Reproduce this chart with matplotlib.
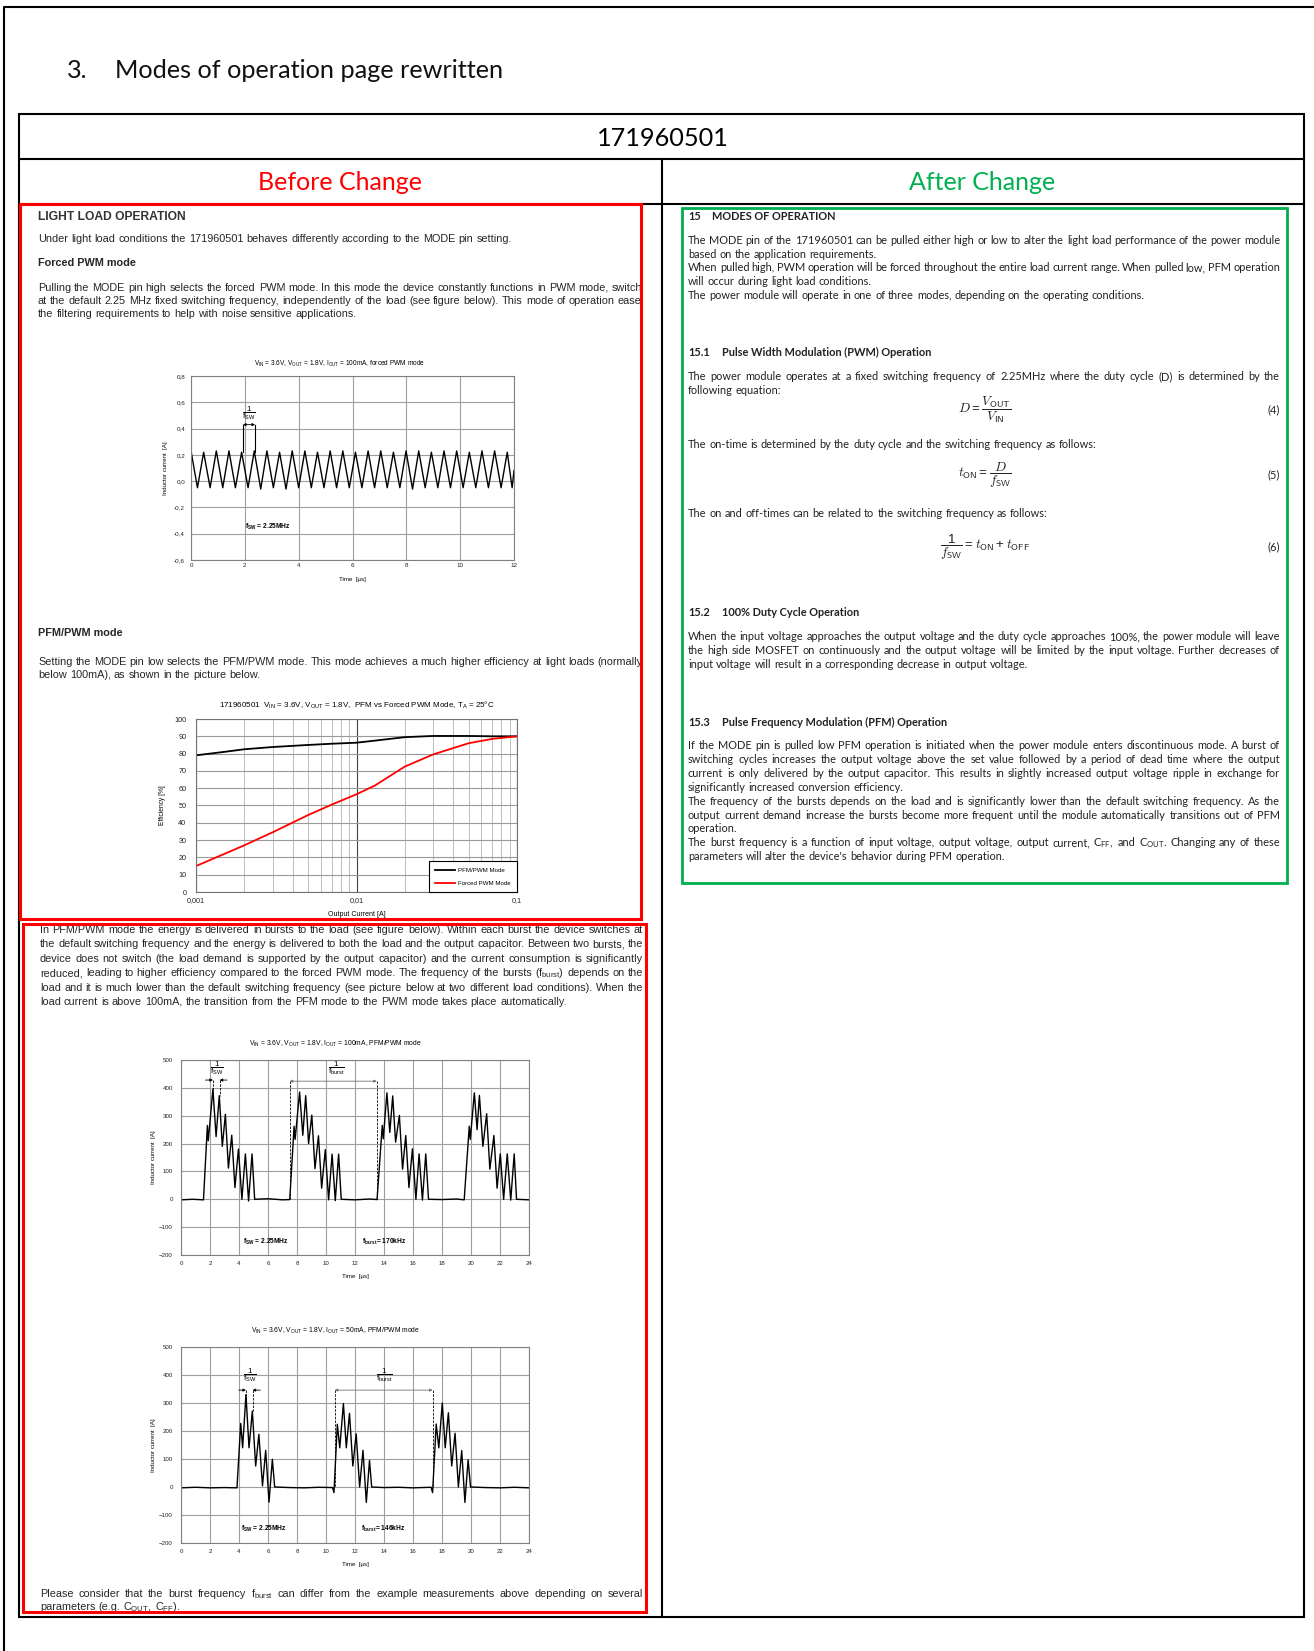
import matplotlib
matplotlib.use("Agg")
import matplotlib.pyplot as plt
from matplotlib.patches import Rectangle
from matplotlib.ticker import LogLocator, NullFormatter
from matplotlib.transforms import Bbox, TransformedBbox

# ---------------- data ----------------
# forced PWM mode, inductor current [A] vs time [us]
pwm_time = [0.00, 0.24, 0.47, 0.71, 0.94, 1.18, 1.41, 1.65, 1.88, 2.12, 2.35, 2.59, 2.82,
            3.06, 3.29, 3.53, 3.76, 4.00, 4.23, 4.47, 4.70, 4.94, 5.17, 5.41, 5.64, 5.88,
            6.11, 6.35, 6.58, 6.82, 7.05, 7.29, 7.52, 7.76, 7.99, 8.23, 8.46, 8.70, 8.93,
            9.17, 9.40, 9.64, 9.87, 10.11, 10.34, 10.58, 10.81, 11.05, 11.28, 11.52, 11.75,
            11.93, 12.00]
pwm_current = [0.23, -0.05, 0.22, -0.05, 0.23, -0.05, 0.23, -0.05, 0.22, -0.05, 0.23, -0.06,
               0.23, -0.05, 0.22, -0.06, 0.23, -0.05, 0.23, -0.05, 0.22, -0.05, 0.23, -0.05,
               0.23, -0.05, 0.22, -0.05, 0.23, -0.05, 0.23, -0.05, 0.22, -0.05, 0.23, -0.06,
               0.23, -0.05, 0.22, -0.05, 0.23, -0.05, 0.23, -0.05, 0.22, -0.05, 0.23, -0.05,
               0.23, -0.05, 0.22, -0.05, 0.08]
pwm_xticks = [0, 2, 4, 6, 8, 10, 12]
pwm_yticks = [-0.6, -0.4, -0.2, 0.0, 0.2, 0.4, 0.6, 0.8]
pwm_ylabels = ["-0,6", "-0,4", "-0,2", "0,0", "0,2", "0,4", "0,6", "0,8"]

# efficiency [%] vs output current [A]
load_a = [0.001, 0.0015, 0.002, 0.003, 0.005, 0.007, 0.01, 0.013, 0.02, 0.03, 0.05, 0.07, 0.1]
pfm_eff = [79, 81, 82.5, 83.8, 85, 85.7, 86.3, 87.5, 89.5, 90.2, 90.2, 90, 90]
forced_eff = [15, 22, 27, 34.5, 44.5, 50.5, 56.5, 61.5, 72.5, 79.5, 86, 88.5, 90]
eff_xticks = [0.001, 0.01, 0.1]
eff_xlabels = ["0,001", "0,01", "0,1"]
eff_yticks = [0, 10, 20, 30, 40, 50, 60, 70, 80, 90, 100]

# PFM/PWM mode, Iout = 100mA
b100_time = [0.0, 0.8, 1.55,
             1.82, 1.88, 2.2, 2.42, 2.64, 2.85, 3.06, 3.27, 3.5, 3.72, 3.96, 4.2, 4.44, 4.66, 4.9, 5.08,
             6.0, 7.0, 7.5,
             7.8, 7.87, 8.18, 8.4, 8.6, 8.8, 9.02, 9.24, 9.48, 9.7, 9.95, 10.18, 10.42, 10.64, 10.87, 11.05,
             12.0, 13.0, 13.52,
             13.88, 13.95, 14.2, 14.4, 14.6, 14.8, 15.06, 15.28, 15.5, 15.72, 15.96, 16.2, 16.42, 16.65, 16.88, 17.07,
             18.0, 19.0, 19.53,
             19.88, 19.95, 20.23, 20.42, 20.58, 20.82, 21.08, 21.3, 21.58, 21.8, 22.02, 22.25, 22.5, 22.74, 22.98, 23.14,
             24.0]
b100_current = [-2, 0, -2,
                265, 210, 395, 225, 372, 190, 305, 112, 230, 42, 180, 0, 163, -6, 163, 0,
                2, -2, -1,
                262, 215, 385, 230, 372, 200, 302, 110, 228, 40, 178, -2, 162, -5, 162, 0,
                -2, 1, -1,
                265, 217, 382, 240, 371, 205, 301, 108, 229, 42, 181, 0, 163, -3, 163, 0,
                -1, 1, -2,
                262, 215, 382, 250, 373, 190, 307, 108, 229, 40, 163, 0, 163, -3, 163, 0,
                -2]

# PFM/PWM mode, Iout = 50mA
b50_time = [0.0, 1.0, 2.0, 3.0, 3.86,
            4.12, 4.25, 4.48, 4.69, 4.92, 5.15, 5.37, 5.62, 5.84, 6.07, 6.3, 6.46,
            7.5, 8.5, 9.5, 10.45, 10.55,
            10.78, 10.95, 11.2, 11.4, 11.62, 11.85, 12.08, 12.32, 12.55, 12.78, 13.0, 13.15,
            14.0, 15.0, 16.0, 17.25, 17.35,
            17.6, 17.78, 18.02, 18.22, 18.44, 18.67, 18.9, 19.13, 19.36, 19.58, 19.8, 19.97,
            21.0, 22.0, 23.0, 24.0]
b50_current = [-3, -1, -3, -2, -3,
               227, 140, 330, 140, 271, 75, 188, 4, 131, -54, 99, 0,
               -2, -3, -1, -2, -20,
               224, 140, 298, 140, 263, 75, 190, 0, 131, -55, 95, 0,
               -2, -1, -3, -1, -20,
               225, 140, 300, 140, 265, 75, 192, 0, 130, -55, 97, 0,
               -2, -3, -1, -3]
burst_xticks = [0, 2, 4, 6, 8, 10, 12, 14, 16, 18, 20, 22, 24]
burst_yticks = [-200, -100, 0, 100, 200, 300, 400, 500]

# ---------------- text ----------------
left_intro = "Under light load conditions the 171960501 behaves differently according to the MODE pin setting."
left_forced = ["Pulling the MODE pin high selects the forced PWM mode. In this mode the device constantly functions in PWM mode, switching",
               "at the default 2.25 MHz fixed switching frequency, independently of the load (see figure below). This mode of operation eases",
               "the filtering requirements to help with noise sensitive applications."]
left_pfm = ["Setting the MODE pin low selects the PFM/PWM mode. This mode achieves a much higher efficiency at light loads (normally",
            "below 100mA), as shown in the picture below."]
left_burst = ["In PFM/PWM mode the energy is delivered in bursts to the load (see figure below). Within each burst the device switches at",
              "the default switching frequency and the energy is delivered to both the load and the output capacitor. Between two bursts, the",
              "device does not switch (the load demand is supported by the output capacitor) and the current consumption is significantly",
              "reduced, leading to higher efficiency compared to the forced PWM mode. The frequency of the bursts (f$_{burst}$) depends on the",
              "load and it is much lower than the default switching frequency (see picture below at two different load conditions). When the",
              "load current is above 100mA, the transition from the PFM mode to the PWM mode takes place automatically."]
left_final = ["Please consider that the burst frequency f$_{burst}$ can differ from the example measurements above depending on several",
              "parameters (e.g. C$_{OUT}$, C$_{FF}$)."]

right_modes = [["The MODE pin of the 171960501 can be pulled either high or low to alter the light load performance of the power module",
                "based on the application requirements."],
               ["When pulled high, PWM operation will be forced throughout the entire load current range. When pulled low, PFM operation",
                "will occur during light load conditions."],
               ["The power module will operate in one of three modes, depending on the operating conditions."]]
right_pwm = [["The power module operates at a fixed switching frequency of 2.25MHz where the duty cycle (D) is determined by the",
              "following equation:"]]
right_ontime = "The on-time is determined by the duty cycle and the switching frequency as follows:"
right_onoff = "The on and off-times can be related to the switching frequency as follows:"
right_duty = [["When the input voltage approaches the output voltage and the duty cycle approaches 100%, the power module will leave",
               "the high side MOSFET on continuously and the output voltage will be limited by the input voltage.  Further decreases of",
               "input voltage will result in a corresponding decrease in output voltage."]]
right_pfm = [["If the MODE pin is pulled low PFM operation is initiated when the power module enters discontinuous mode.  A burst of",
              "switching cycles increases the output voltage above the set value followed by a period of dead time where the output",
              "current is only delivered by the output capacitor.  This results in slightly increased output voltage ripple in exchange for",
              "significantly increased conversion efficiency."],
             ["The frequency of the bursts depends on the load and is significantly lower than the default switching frequency.  As the",
              "output current demand increase the bursts become more frequent until the module automatically transitions out of PFM",
              "operation."],
             ["The burst frequency is a function of input voltage, output voltage, output current, C$_{FF}$, and C$_{OUT}$.  Changing any of these",
              "parameters will alter the device's behavior during PFM operation."]]

# ---------------- page ----------------
W, H = 1314, 1651
plt.rcParams['font.family'] = 'Liberation Sans'
plt.rcParams['mathtext.default'] = 'regular'

fig = plt.figure(figsize=(W / 100, H / 100), dpi=100)
page = fig.add_axes([0, 0, 1, 1])
page.set_xlim(0, W)
page.set_ylim(H, 0)
page.axis('off')
rend = fig.canvas.get_renderer()

RED = '#ff0000'
GREEN = '#00b050'
LEFT = dict(family='Liberation Sans', fontsize=7.8, color='#262626')
RIGHT = dict(family='Lato', fontsize=7.9, color='#222222')


def box(x0, y0, x1, y1):
    return [x0 / W, 1 - y1 / H, (x1 - x0) / W, (y1 - y0) / H]


def width(t):
    return t.get_window_extent(renderer=rend).width


_space = {}


def space_w(kw):
    key = (kw.get('family'), kw.get('fontsize'), kw.get('fontweight', 'normal'))
    if key not in _space:
        a = page.text(0, 0, 'n n', **kw)
        b = page.text(0, 0, 'nn', **kw)
        _space[key] = width(a) - width(b)
        a.remove()
        b.remove()
    return _space[key]


# left column text is cut off by the red frame, as in the original
left_clip = TransformedBbox(Bbox([[0, 0], [641, H]]), page.transData)


def line(x0, x1, y, s, just, clip=None, **kw):
    words = s.split()
    ts = [page.text(x0, y, w, ha='left', va='baseline', **kw) for w in words]
    ws = [width(t) for t in ts]
    gap = space_w(kw)
    if just and len(words) > 1:
        gap = (x1 - x0 - sum(ws)) / (len(words) - 1)
    x = x0
    for t, w in zip(ts, ws):
        t.set_x(x)
        if clip is not None:
            t.set_clip_on(True)
            t.set_clip_box(clip)
        x += w + gap


def block(x0, x1, y0, dy, paras, clip=None, **kw):
    y = y0
    for p in paras:
        for k, s in enumerate(p):
            line(x0, x1, y, s, k < len(p) - 1, clip=clip, **kw)
            y += dy
    return y


# page frame and table
page.plot([4, 4, W], [H, 7, 7], color='k', lw=1.5)
page.add_patch(Rectangle((19, 114), 1304 - 19, 1617 - 114, fill=False, ec='k', lw=1.5))
page.plot([19, 1304], [159, 159], color='k', lw=1.5)
page.plot([19, 1304], [204, 204], color='k', lw=1.5)
page.plot([662, 662], [159, 1617], color='k', lw=1.5)

page.text(67, 78, "3.", family='Lato', fontsize=18.2, va='baseline', color='#111111')
page.text(115, 78, "Modes of operation page rewritten", family='Lato', fontsize=18.2,
          va='baseline', color='#111111')
page.text(663, 138, "171960501", family='Lato', fontsize=18.2, ha='center', va='center')
page.text(340, 183, "Before Change", family='Lato', fontsize=18, ha='center', va='center', color=RED)
page.text(982, 183, "After Change", family='Lato', fontsize=18, ha='center', va='center', color=GREEN)

# ---- left column text ----
page.text(38, 220.5, "LIGHT LOAD OPERATION", family='Liberation Sans', fontsize=8.75,
          fontweight='bold', color='#333333', va='baseline')
line(38, 641, 242, left_intro, False, **LEFT)
page.text(38, 266.5, "Forced PWM mode", fontweight='bold', va='baseline', **LEFT)
block(38, 641, 291, 12.8, [left_forced[:1], left_forced[1:2], left_forced[2:]], clip=left_clip, **LEFT)
page.text(38, 635.5, "PFM/PWM mode", fontweight='bold', va='baseline', **LEFT)
block(38, 641, 665, 12.8, [left_pfm[:1], left_pfm[1:]], clip=left_clip, **LEFT)
block(40, 643, 933, 14.4, [left_burst], **LEFT)
block(40, 643, 1597, 13, [left_final], **LEFT)

page.add_patch(Rectangle((20, 204), 641 - 20, 919 - 204, fill=False, ec=RED, lw=2.2, zorder=5))
page.add_patch(Rectangle((23, 924), 646 - 23, 1612 - 924, fill=False, ec=RED, lw=2.2, zorder=5))

# ---- right column text ----
HEAD = dict(RIGHT, fontweight='bold')
page.text(688, 219.5, "15", va='baseline', **HEAD)
page.text(712, 219.5, "MODES OF OPERATION", va='baseline', **HEAD)
block(688, 1280, 244, 13.7, right_modes, **RIGHT)

page.text(688, 356.2, "15.1", va='baseline', **HEAD)
page.text(722, 356.2, "Pulse Width Modulation (PWM) Operation", va='baseline', **HEAD)
block(688, 1280, 380, 13.7, right_pwm, **RIGHT)
line(688, 1280, 448, right_ontime, False, **RIGHT)
line(688, 1280, 517, right_onoff, False, **RIGHT)

EQ = dict(fontsize=9.6, ha='center', va='center', math_fontfamily='cm', color='#222222')
page.text(985, 410, r"$\mathit{D} = \dfrac{\mathit{V}_{\mathsf{OUT}}}{\mathit{V}_{\mathsf{IN}}}$", **EQ)
page.text(985, 475, r"$\mathit{t}_{\mathsf{ON}} = \dfrac{\mathit{D}}{\mathit{f}_{\mathsf{SW}}}$", **EQ)
page.text(985, 547, r"$\dfrac{1}{\mathit{f}_{\mathsf{SW}}} = \mathit{t}_{\mathsf{ON}} + \mathit{t}_{\mathsf{OFF}}$", **EQ)
for yy, num in [(410, "(4)"), (475, "(5)"), (547, "(6)")]:
    page.text(1280, yy, num, ha='right', va='center', **RIGHT)

page.text(688, 616.5, "15.2", va='baseline', **HEAD)
page.text(722, 616.5, "100% Duty Cycle Operation", va='baseline', **HEAD)
block(688, 1280, 640.3, 13.7, right_duty, **RIGHT)

page.text(688, 725.5, "15.3", va='baseline', **HEAD)
page.text(722, 725.5, "Pulse Frequency Modulation (PFM) Operation", va='baseline', **HEAD)
block(688, 1280, 749.3, 13.85, right_pfm, **RIGHT)

page.add_patch(Rectangle((682, 208), 1287 - 682, 883 - 208, fill=False, ec=GREEN, lw=2.0, zorder=5))


# ---------------- charts ----------------
def style(ax, fs, ypad, xpad):
    ax.tick_params(length=0, labelsize=fs, colors='#222222')
    ax.tick_params(axis='y', pad=ypad)
    ax.tick_params(axis='x', pad=xpad)
    for s in ax.spines.values():
        s.set_color('0.5')
        s.set_linewidth(0.8)
    ax.grid(True, color='0.62', lw=0.8)
    ax.set_axisbelow(True)


def arrow(ax, x0, x1, y, st='-|>', color='k'):
    ax.annotate('', xy=(x1, y), xytext=(x0, y),
                arrowprops=dict(arrowstyle=st, color=color, lw=0.6, mutation_scale=4,
                                shrinkA=0, shrinkB=0))


DASH = dict(color='k', lw=0.6, ls=(0, (3, 1.5)))
FRAC = dict(ha='center', va='center', fontsize=5.8)

# chart 1: forced PWM
ax1 = fig.add_axes(box(191, 376, 514, 560))
ax1.plot(pwm_time, pwm_current, color='k', lw=1.0)
ax1.set_xlim(0, 12)
ax1.set_ylim(-0.6, 0.8)
ax1.set_xticks(pwm_xticks)
ax1.set_yticks(pwm_yticks)
ax1.set_yticklabels(pwm_ylabels)
style(ax1, 4.5, 4.3, 2.5)
ax1.set_ylabel("Inductor current  [A]", fontsize=4.4)
ax1.yaxis.set_label_coords(-0.071, 0.5)
ax1.set_xlabel("Time  [µs]", fontsize=4.4)
ax1.xaxis.set_label_coords(0.5, -0.092)
ax1.text(0.46, 1.065, "V$_{IN}$ = 3.6V, V$_{OUT}$ = 1.8V, I$_{OUT}$ = 100mA, forced PWM mode",
         transform=ax1.transAxes, ha='center', va='center', fontsize=4.7)
ax1.plot([1.93, 1.93], [0.22, 0.43], color='k', lw=0.8)
ax1.plot([2.38, 2.38], [0.22, 0.43], color='k', lw=0.8)
arrow(ax1, 1.93, 2.38, 0.43, '<|-|>')
ax1.text(2.15, 0.52, r"$\dfrac{1}{f_{SW}}$", **FRAC)
ax1.text(2.0, -0.35, "f$_{SW}$ = 2.25MHz", ha='left', va='center', fontsize=4.8, fontweight='bold')

# chart 2: efficiency
ax2 = fig.add_axes(box(196, 719, 517, 892))
ax2.semilogx(load_a, pfm_eff, color='k', lw=1.3, label='PFM/PWM Mode')
ax2.semilogx(load_a, forced_eff, color=RED, lw=1.3, label='Forced PWM Mode')
ax2.set_xlim(0.001, 0.1)
ax2.set_ylim(0, 100)
ax2.set_yticks(eff_yticks)
ax2.set_xticks(eff_xticks)
ax2.set_xticklabels(eff_xlabels)
ax2.xaxis.set_minor_locator(LogLocator(base=10, subs=range(2, 10)))
ax2.xaxis.set_minor_formatter(NullFormatter())
ax2.tick_params(which='both', length=0)
ax2.tick_params(labelsize=5.2, colors='#222222')
ax2.tick_params(axis='y', pad=7)
ax2.tick_params(axis='x', pad=3.5)
ax2.grid(True, which='major', axis='y', color='0.6', lw=0.8)
ax2.grid(True, which='minor', axis='x', color='0.75', lw=0.7)
ax2.grid(True, which='major', axis='x', color='0.25', lw=0.8)
ax2.set_axisbelow(True)
for s in ax2.spines.values():
    s.set_color('0.45')
    s.set_linewidth(0.8)
ax2.set_ylabel("Efficiency [%]", fontsize=4.8)
ax2.yaxis.set_label_coords(-0.093, 0.5)
ax2.set_xlabel("Output Current [A]", fontsize=5)
ax2.xaxis.set_label_coords(0.5, -0.112)
ax2.text(0.5, 1.077, "171960501  V$_{IN}$ = 3.6V, V$_{OUT}$ = 1.8V,  PFM vs Forced PWM Mode, T$_{A}$ = 25°C",
         transform=ax2.transAxes, ha='center', va='center', fontsize=5.8)
leg = ax2.legend(loc='lower right', borderaxespad=0, fancybox=False, edgecolor='k', framealpha=1,
                 fontsize=4.4, handlelength=3.2, labelspacing=1.3, borderpad=1.0, handletextpad=0.6)
leg.get_frame().set_linewidth(0.8)


# charts 3 and 4: PFM/PWM bursts
def burst_axes(y0, y1, t, i, title):
    ax = fig.add_axes(box(181, y0, 529, y1))
    ax.plot(t, i, color='k', lw=1.0)
    ax.set_xlim(0, 24)
    ax.set_ylim(-200, 500)
    ax.set_xticks(burst_xticks)
    ax.set_yticks(burst_yticks)
    style(ax, 4.4, 5.8, 4.0)
    ax.set_ylabel("Inductor current  [A]", fontsize=4.4)
    ax.yaxis.set_label_coords(-0.072, 0.5)
    ax.set_xlabel("Time  [µs]", fontsize=4.4)
    ax.xaxis.set_label_coords(0.5, -0.097)
    ax.text(0.445, 1.083, title, transform=ax.transAxes, ha='center', va='center', fontsize=4.9)
    return ax


ax3 = burst_axes(1060, 1255, b100_time, b100_current,
                 "V$_{IN}$ = 3.6V, V$_{OUT}$ = 1.8V, I$_{OUT}$ = 100mA, PFM/PWM mode")
arrow(ax3, 1.68, 2.2, 428)
arrow(ax3, 3.17, 2.67, 428)
ax3.plot([2.2, 2.2], [428, 380], **DASH)
ax3.plot([2.67, 2.67], [428, 370], **DASH)
ax3.text(2.45, 470, r"$\dfrac{1}{f_{SW}}$", **FRAC)
ax3.plot([7.5, 7.5], [424, 0], **DASH)
ax3.plot([13.5, 13.5], [424, 0], **DASH)
arrow(ax3, 7.5, 13.5, 424, '<|-|>', color='0.45')
ax3.text(10.75, 470, r"$\dfrac{1}{f_{burst}}$", **FRAC)
ax3.text(4.28, -154, "f$_{SW}$ = 2.25MHz", ha='left', va='center', fontsize=4.8, fontweight='bold')
ax3.text(12.5, -154, "f$_{burst}$= 170kHz", ha='left', va='center', fontsize=4.8, fontweight='bold')

ax4 = burst_axes(1347, 1543, b50_time, b50_current,
                 "V$_{IN}$ = 3.6V, V$_{OUT}$ = 1.8V, I$_{OUT}$ = 50mA, PFM/PWM mode")
arrow(ax4, 3.98, 4.48, 346)
arrow(ax4, 5.47, 4.94, 346)
ax4.plot([4.48, 4.48], [346, 300], **DASH)
ax4.plot([4.94, 4.94], [346, 270], **DASH)
ax4.text(4.75, 398, r"$\dfrac{1}{f_{SW}}$", **FRAC)
ax4.plot([10.6, 10.6], [346, 0], **DASH)
ax4.plot([17.35, 17.35], [346, 0], **DASH)
arrow(ax4, 10.6, 17.35, 346, '<|-|>', color='0.45')
ax4.text(14.05, 398, r"$\dfrac{1}{f_{burst}}$", **FRAC)
ax4.text(4.16, -150, "f$_{SW}$ = 2.25MHz", ha='left', va='center', fontsize=4.8, fontweight='bold')
ax4.text(12.4, -150, "f$_{burst}$= 146kHz", ha='left', va='center', fontsize=4.8, fontweight='bold')

fig.savefig("out.png", dpi=100)
